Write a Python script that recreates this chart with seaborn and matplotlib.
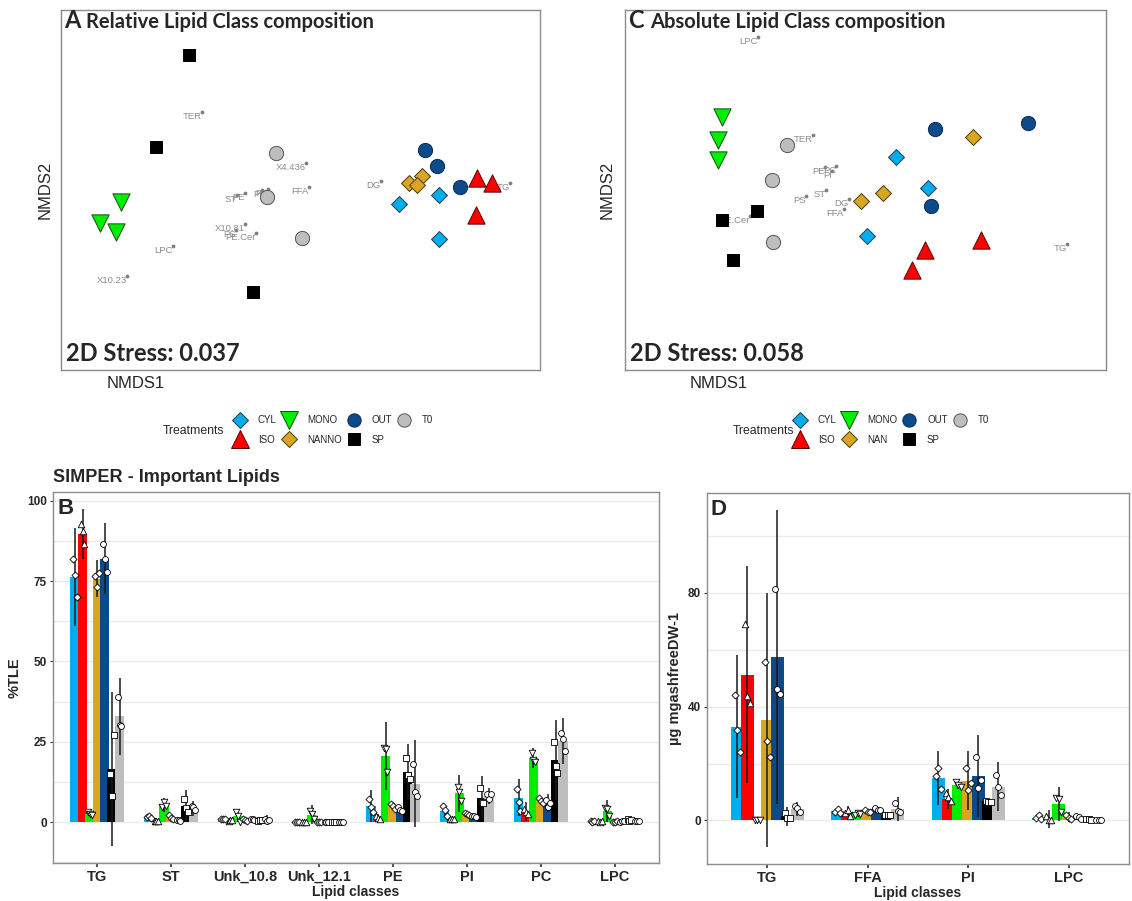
import numpy as np
import pandas as pd
import matplotlib
matplotlib.use("Agg")
import matplotlib.pyplot as plt
import seaborn as sns
from matplotlib.lines import Line2D
from matplotlib.ticker import MultipleLocator

# ---- treatments / styling
treatments = ["CYL", "ISO", "MONO", "NANNO", "OUT", "SP", "T0"]
colors = {"CYL": "#00AEEF", "ISO": "#FF0000", "MONO": "#00EE00", "NANNO": "#DAA520",
          "OUT": "#0D4A8A", "SP": "#000000", "T0": "#BEBEBE"}
markers = {"CYL": "D", "ISO": "^", "MONO": "v", "NANNO": "D", "OUT": "o", "SP": "s", "T0": "o"}

# ---- NMDS scores, panel A (relative)
a_treat = ["SP"] * 3 + ["MONO"] * 3 + ["T0"] * 3 + ["OUT"] * 3 + ["NANNO"] * 3 + ["CYL"] * 3 + ["ISO"] * 3
a_x = [-0.444, -0.576, -0.188, -0.716, -0.80, -0.736, -0.096, -0.132, 0.008,
       0.50, 0.548, 0.64, 0.436, 0.488, 0.468, 0.396, 0.556, 0.556, 0.708, 0.768, 0.704]
a_y = [0.54, 0.172, -0.408, -0.048, -0.132, -0.168, 0.148, -0.028, -0.192,
       0.16, 0.096, 0.012, 0.028, 0.056, 0.02, -0.056, -0.02, -0.196, 0.048, 0.028, -0.10]
a_lip = ["TER", "X4.436", "ST", "PE", "PI", "PC", "FFA", "X10.81", "PS", "PE.Cer", "LPC", "X10.23", "DG", "TG"]
a_lx = [-0.392, 0.024, -0.252, -0.22, -0.152, -0.128, 0.036, -0.22, -0.256, -0.176, -0.508, -0.692, 0.324, 0.84]
a_ly = [0.312, 0.108, -0.02, -0.012, 0.0, 0.004, 0.012, -0.136, -0.16, -0.172, -0.224, -0.344, 0.036, 0.028]

# ---- NMDS scores, panel C (absolute)
c_treat = a_treat
c_x = [-0.572, -0.432, -0.528, -0.572, -0.588, -0.588, -0.312, -0.372, -0.368,
       0.28, 0.652, 0.264, -0.016, 0.072, 0.432, 0.124, 0.008, 0.252, 0.24, 0.188, 0.464]
c_y = [-0.12, -0.084, -0.28, 0.292, 0.2, 0.12, 0.18, 0.04, -0.208,
       0.244, 0.268, -0.064, -0.044, -0.012, 0.212, 0.132, -0.184, 0.008, -0.24, -0.32, -0.2]
c_lip = ["LPC", "TER", "PE", "PC", "PI", "ST", "PS", "DG", "FFA", "PE.Cer", "TG"]
c_lx = [-0.428, -0.208, -0.16, -0.116, -0.132, -0.156, -0.236, -0.064, -0.084, -0.46, 0.808]
c_ly = [0.612, 0.22, 0.092, 0.096, 0.076, 0.0, -0.024, -0.036, -0.076, -0.104, -0.216]

# ---- panel B: %TLE  (rows = treatments, cols = classes)
b_classes = ["TG", "ST", "Unk_10.8", "Unk_12.1", "PE", "PI", "PC", "LPC"]
b_mean = [[76.2, 1.7, 1.0, 0.0, 5.0, 3.5, 7.6, 0.2],
          [89.7, 0.3, 0.5, 0.1, 1.4, 0.9, 3.2, 0.2],
          [2.6, 5.3, 2.0, 2.3, 20.6, 9.0, 19.9, 3.5],
          [75.8, 1.5, 0.5, 0.1, 4.9, 2.5, 6.6, 0.1],
          [82.0, 0.5, 0.8, 0.0, 4.0, 1.8, 5.9, 0.2],
          [16.5, 5.0, 0.5, 0.1, 15.7, 7.5, 19.3, 0.5],
          [33.0, 4.2, 0.6, 0.0, 12.0, 8.2, 25.3, 0.3]]
b_sd = [[15.2, 0.5, 0.3, 0.0, 5.0, 1.7, 5.7, 0.1],
        [7.8, 0.1, 0.3, 0.1, 1.0, 0.5, 3.0, 0.1],
        [0.5, 2.2, 2.0, 3.0, 10.6, 5.8, 3.0, 3.5],
        [5.7, 0.6, 0.5, 0.1, 0.6, 0.5, 0.8, 0.1],
        [11.0, 0.2, 0.3, 0.0, 1.0, 0.4, 2.8, 0.1],
        [24.0, 5.0, 0.3, 0.1, 8.5, 6.7, 12.4, 1.0],
        [12.0, 2.2, 1.5, 0.0, 13.6, 2.5, 7.2, 0.3]]
b_reps = [[[82, 77, 70], [1.5, 2.0, 1.4], [1.1, 0.9, 0.9], [0, 0, 0], [7.2, 4.7, 3.1], [4.9, 3.8, 1.9], [10.2, 6.1, 3.3], [0.3, 0.1, 0.2]],
          [[92.7, 90.7, 86.5], [0.3, 0.3, 0.4], [0.4, 0.5, 0.7], [0, 0.1, 0.1], [2.0, 1.3, 1.0], [1.0, 0.8, 0.9], [4.0, 3.0, 2.5], [0.2, 0.1, 0.3]],
          [[3.0, 2.6, 2.2], [4.8, 6.3, 4.9], [3.2, 1.8, 0.1], [3.5, 2.5, 0.9], [23.2, 22.7, 15.7], [11.0, 9.2, 6.6], [21.4, 19.3, 18.8], [4.3, 4.0, 2.0]],
          [[76.5, 73.2, 77.6], [2.2, 1.4, 0.8], [0.8, 0.5, 0.2], [0.1, 0.0, 0.1], [5.6, 5.0, 4.2], [2.8, 2.5, 2.3], [7.5, 6.5, 6.0], [0.1, 0.1, 0.2]],
          [[86.5, 81.8, 78.0], [0.5, 0.6, 0.4], [1.0, 0.8, 0.6], [0, 0, 0.1], [4.6, 3.9, 3.5], [2.0, 1.8, 1.6], [7.0, 4.8, 5.9], [0.1, 0.3, 0.2]],
          [[15, 8, 27], [7.3, 4.5, 3.2], [0.3, 0.6, 0.6], [0.1, 0.1, 0.1], [19.8, 14.6, 13.4], [10.6, 6.3, 5.8], [24.9, 17.5, 15.4], [0.8, 0.2, 0.6]],
          [[38.8, 30.3, 30.0], [5.0, 4.6, 3.6], [1.0, 0.2, 0.6], [0, 0, 0], [18.2, 9.4, 8.2], [8.7, 7.3, 8.6], [27.8, 26.0, 22.2], [0.4, 0.3, 0.2]]]

# ---- panel D: ug mgashfreeDW-1
d_classes = ["TG", "FFA", "PI", "LPC"]
d_mean = [[33.0, 3.4, 14.8, 1.0],
          [51.2, 3.1, 7.5, 0.5],
          [0.2, 2.3, 12.5, 5.8],
          [35.2, 3.1, 14.0, 1.2],
          [57.4, 4.0, 15.6, 1.0],
          [1.4, 2.0, 6.7, 0.3],
          [4.0, 4.1, 11.9, 0.1]]
d_sd = [[25.2, 0.8, 9.5, 0.8],
        [38.2, 2.0, 3.5, 3.0],
        [0.1, 0.5, 1.5, 6.0],
        [44.6, 0.5, 10.4, 1.8],
        [51.8, 0.5, 14.4, 0.5],
        [3.2, 0.2, 0.5, 0.3],
        [2.5, 4.3, 8.6, 0.1]]
d_reps = [[[44.0, 31.7, 24.2], [3.0, 4.0, 2.5], [15.6, 18.6, 11.0], [1.0, 2.0, 0.6]],
          [[69.0, 43.6, 41.4], [2.5, 3.5, 1.5], [9.6, 8.4, 6.9], [1.5, 0.0, 0.2]],
          [[0.2, 0.2, 0.3], [2.0, 2.5, 2.4], [13.5, 12.5, 11.6], [8.0, 7.5, 3.0]],
          [[55.7, 28.0, 22.4], [3.5, 3.0, 2.8], [18.6, 10.7, 13.3], [2.0, 1.0, 0.6]],
          [[81.3, 46.3, 44.3], [4.2, 3.8, 3.6], [22.2, 11.3, 14.2], [1.5, 1.2, 0.5]],
          [[2.5, 0.8, 1.0], [1.8, 1.8, 1.8], [6.8, 6.5, 6.6], [0.6, 0.4, 0.2]],
          [[5.0, 4.5, 3.0], [6.0, 3.4, 2.8], [16.0, 11.9, 8.8], [0.3, 0.2, 0.1]]]

sns.set_style("white")
plt.rcParams['font.family'] = ['Liberation Sans', 'DejaVu Sans']

fig = plt.figure(figsize=(11.32, 9.01), dpi=100)
W, H = 1132.0, 901.0


def px_axes(l, t, r, b):
    return fig.add_axes([l / W, 1 - b / H, (r - l) / W, (b - t) / H])


nmds_size = {"CYL": 66, "ISO": 155, "MONO": 155, "NANNO": 66, "OUT": 105, "SP": 78, "T0": 105}
edges = {"CYL": "#1F3A4A", "ISO": "#5A0000", "MONO": "#1A4A1A", "NANNO": "#4A3A10",
         "OUT": "#0A2A50", "SP": "#000000", "T0": "#555555"}
draw_order = ["SP", "MONO", "T0", "OUT", "NANNO", "CYL", "ISO"]


def nmds_panel(ax, xs, ys, treat, lips, lx, ly, letter, title, stress, xlim):
    df = pd.DataFrame({"NMDS1": xs, "NMDS2": ys, "Treatment": treat})
    ax.scatter(lx, ly, s=3, color="#7F7F7F", zorder=2)
    for name, x, y in zip(lips, lx, ly):
        ax.text(x, y, name, ha="right", va="top", fontsize=6.8, color="#8C8C8C", zorder=2)
    for t in draw_order:
        sub = df[df.Treatment == t]
        sns.scatterplot(data=sub, x="NMDS1", y="NMDS2", marker=markers[t], s=nmds_size[t],
                        color=colors[t], edgecolor=edges[t], linewidth=0.7, ax=ax,
                        legend=False, zorder=3)
    ax.set_xlim(*xlim)
    ax.set_ylim(-0.72, 0.72)
    ax.set_xticks([])
    ax.set_yticks([])
    ax.set_xlabel("")
    ax.set_ylabel("")
    for s in ax.spines.values():
        s.set_color("#8C8C8C")
        s.set_linewidth(1.0)
    ax.text(0.006, 0.95, letter, transform=ax.transAxes, fontsize=17, fontweight="bold",
            family="Lato", va="baseline", ha="left")
    ax.text(0.052, 0.95, title, transform=ax.transAxes, fontsize=14.5, fontweight="bold",
            family="Lato", va="baseline", ha="left")
    ax.text(0.01, 0.025, stress, transform=ax.transAxes, fontsize=17, fontweight="bold",
            family="Lato", va="baseline", ha="left")


ax_a = px_axes(61, 10, 540, 370)
nmds_panel(ax_a, a_x, a_y, a_treat, a_lip, a_lx, a_ly, "A", "Relative Lipid Class composition",
           "2D Stress: 0.037", (-0.956, 0.96))
ax_c = px_axes(625, 10, 1106, 370)
nmds_panel(ax_c, c_x, c_y, c_treat, c_lip, c_lx, c_ly, "C", "Absolute Lipid Class composition",
           "2D Stress: 0.058", (-0.96, 0.964))

fig.text(136 / W, 1 - 384 / H, "NMDS1", ha="center", va="center", fontsize=12)
fig.text(719 / W, 1 - 384 / H, "NMDS1", ha="center", va="center", fontsize=12)
fig.text(45 / W, 1 - 190 / H, "NMDS2", ha="center", va="center", fontsize=12, rotation=90)
fig.text(607 / W, 1 - 190 / H, "NMDS2", ha="center", va="center", fontsize=12, rotation=90)

# ---- legends
leg_ms = {"CYL": 8.4, "ISO": 12.8, "MONO": 12.8, "NANNO": 8.4, "OUT": 9.6, "SP": 8.0, "T0": 9.6}


def add_legend(labels, x_left, x_text):
    hs = [Line2D([], [], ls="", marker=markers[t], markersize=leg_ms[t], markerfacecolor=colors[t],
                 markeredgecolor=edges[t], markeredgewidth=0.7, label=lab)
          for t, lab in zip(treatments, labels)]
    fig.legend(handles=hs, ncol=4, loc="center left", bbox_to_anchor=(x_left / W, 1 - 430 / H),
               frameon=False, fontsize=7, handlelength=1.8, handletextpad=0.95,
               columnspacing=0.35, labelspacing=0.95, borderpad=0, borderaxespad=0)
    fig.text(x_text / W, 1 - 431 / H, "Treatments", ha="left", va="center", fontsize=8.8)


add_legend(["CYL", "ISO", "MONO", "NANNO", "OUT", "SP", "T0"], 231, 163)
add_legend(["CYL", "ISO", "MONO", "NAN", "OUT", "SP", "T0"], 791, 733)

# ---- bar panels
pt_size = {"CYL": 13, "ISO": 22, "MONO": 22, "NANNO": 13, "OUT": 18, "SP": 13, "T0": 18}
jit = [-0.025, 0.0, 0.025]


def bar_panel(ax, classes, means, sds, reps, major, minor, letter, ylabel):
    n = len(treatments)
    xs = np.arange(len(classes))
    means = np.array(means)
    sds = np.array(sds)
    for i, t in enumerate(treatments):
        off = (i - (n - 1) / 2) * 0.1
        ax.bar(xs + off, means[i], width=0.129, color=colors[t], zorder=2, linewidth=0)
    for i, t in enumerate(treatments):
        off = (i - (n - 1) / 2) * 0.1
        ax.vlines(xs + off, means[i] - sds[i], means[i] + sds[i], color="#1A1A1A", lw=1.1, zorder=3)
        for k in range(len(classes)):
            ax.scatter(xs[k] + off + np.array(jit), reps[i][k], marker=markers[t], s=pt_size[t],
                       facecolor="white", edgecolor="black", linewidth=0.6, zorder=4)
    lo = (means - sds).min()
    hi = (means + sds).max()
    pad = (hi - lo) * 0.05
    ax.set_ylim(lo - pad, hi + pad)
    ax.set_xlim(-0.6, len(classes) - 0.4)
    ax.set_xticks(xs)
    ax.set_xticklabels(classes, fontsize=10.5, fontweight="bold")
    ax.yaxis.set_major_locator(MultipleLocator(major))
    ax.yaxis.set_minor_locator(MultipleLocator(minor))
    for lab in ax.get_yticklabels():
        lab.set_fontweight("bold")
        lab.set_fontsize(8.5)
    ax.tick_params(axis="x", length=3, width=1.2, color="#333333", pad=2, bottom=True)
    ax.tick_params(axis="y", which="major", length=2.5, width=0.8, color="#333333", pad=2, left=True)
    ax.tick_params(axis="y", which="minor", length=0)
    ax.yaxis.grid(True, which="both", color="#EBEBEB", lw=1.0)
    ax.xaxis.grid(False)
    ax.set_axisbelow(True)
    for s in ax.spines.values():
        s.set_color("#8C8C8C")
        s.set_linewidth(1.0)
    ax.set_xlabel("Lipid classes", fontsize=10, fontweight="bold", labelpad=1)
    ax.set_ylabel(ylabel, fontsize=10.5, fontweight="bold", labelpad=4)
    ax.text(0.008, 0.985, letter, transform=ax.transAxes, fontsize=16, fontweight="bold",
            va="top", ha="left")


ax_b = px_axes(53, 492, 659, 863)
bar_panel(ax_b, b_classes, b_mean, b_sd, b_reps, 25, 12.5, "B", "%TLE")
fig.text(53 / W, 1 - 478 / H, "SIMPER - Important Lipids", ha="left", va="center",
         fontsize=13, fontweight="bold")

ax_d = px_axes(707, 493, 1129, 864)
bar_panel(ax_d, d_classes, d_mean, d_sd, d_reps, 40, 20, "D", "µg mgashfreeDW-1")

fig.savefig("out.png", dpi=100)
